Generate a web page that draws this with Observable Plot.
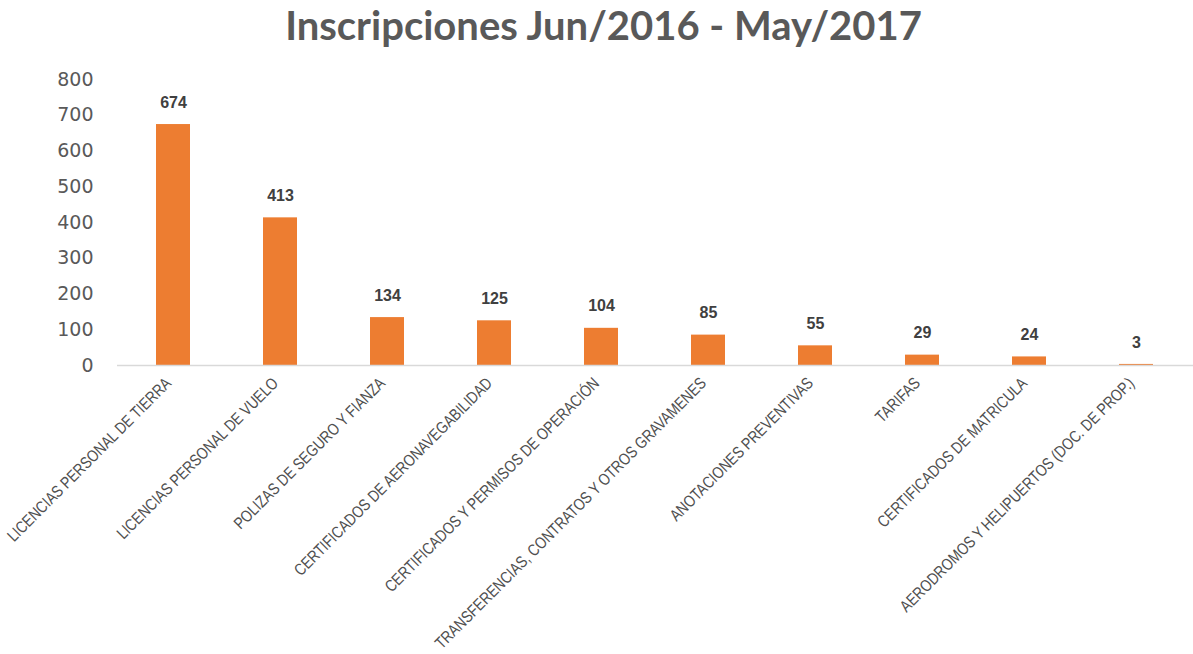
<!DOCTYPE html>
<html>
<head>
<meta charset="utf-8">
<script src="https://cdn.jsdelivr.net/npm/d3@7"></script>
<script src="https://cdn.jsdelivr.net/npm/@observablehq/plot@0.6"></script>
<style>
  html, body { margin: 0; padding: 0; background: #fff; }
  #title { height: 56px; padding-top: 1px; box-sizing: border-box; text-align: center; padding-left: 14px;
    font-family: Lato, "Open Sans", sans-serif; font-weight: bold; font-size: 40px; color: #595959; line-height: 48px; }
</style>
</head>
<body>
<div id="title">Inscripciones Jun/2016 - May/2017</div>
<div id="chart"></div>
<script>
const categories = [
  "LICENCIAS PERSONAL DE TIERRA",
  "LICENCIAS PERSONAL DE VUELO",
  "POLIZAS DE SEGURO Y FIANZA",
  "CERTIFICADOS DE AERONAVEGABILIDAD",
  "CERTIFICADOS Y PERMISOS DE OPERACIÓN",
  "TRANSFERENCIAS, CONTRATOS Y OTROS GRAVAMENES",
  "ANOTACIONES PREVENTIVAS",
  "TARIFAS",
  "CERTIFICADOS DE MATRICULA",
  "AERODROMOS Y HELIPUERTOS (DOC. DE PROP.)"
];
const values = [674, 413, 134, 125, 104, 85, 55, 29, 24, 3];
const yTicks = [0, 100, 200, 300, 400, 500, 600, 700, 800];

const data = categories.map((c, i) => ({category: c, value: values[i]}));

const chart = Plot.plot({
  width: 1193,
  height: 598,
  marginTop: 23,
  marginBottom: 289,
  marginLeft: 117,
  marginRight: 0,
  style: {fontFamily: "'Open Sans', sans-serif", color: "#595959", background: "#fff"},
  x: {domain: categories, paddingInner: 0.68, paddingOuter: 0.34, label: null},
  y: {domain: [0, 800], ticks: yTicks, label: null},
  marks: [
    Plot.barY(data, {x: "category", y: "value", fill: "#ED7D31"}),
    Plot.ruleY([0], {stroke: "#d9d9d9", strokeWidth: 1.5}),
    Plot.text(data, {x: "category", y: "value", text: d => String(d.value), dy: -22,
      fontSize: 16, fontWeight: "bold", fill: "#404040",
      fontFamily: "'Liberation Sans Narrow', 'Arial Narrow', 'Liberation Sans', sans-serif"}),
    Plot.axisY({ticks: yTicks, tickSize: 0, tickPadding: 24, fontSize: 19, fill: "#595959", label: null,
      fontFamily: "'DejaVu Sans', sans-serif"}),
    Plot.axisX({tickSize: 0, tickPadding: 15, dx: -5, tickRotate: -45, fontSize: 16.5, fill: "#505050", label: null,
      fontFamily: "'Liberation Sans Narrow', 'Arial Narrow', 'Liberation Sans', sans-serif"})
  ]
});
document.getElementById("chart").appendChild(chart);
// condense the rotated category labels along their reading direction
chart.querySelectorAll('g[aria-label="x-axis tick label"] text').forEach(t => {
  const tr = t.getAttribute("transform") || "";
  if (tr.includes("rotate")) t.setAttribute("transform", tr + " scale(0.82,1)");
});
</script>
</body>
</html>
